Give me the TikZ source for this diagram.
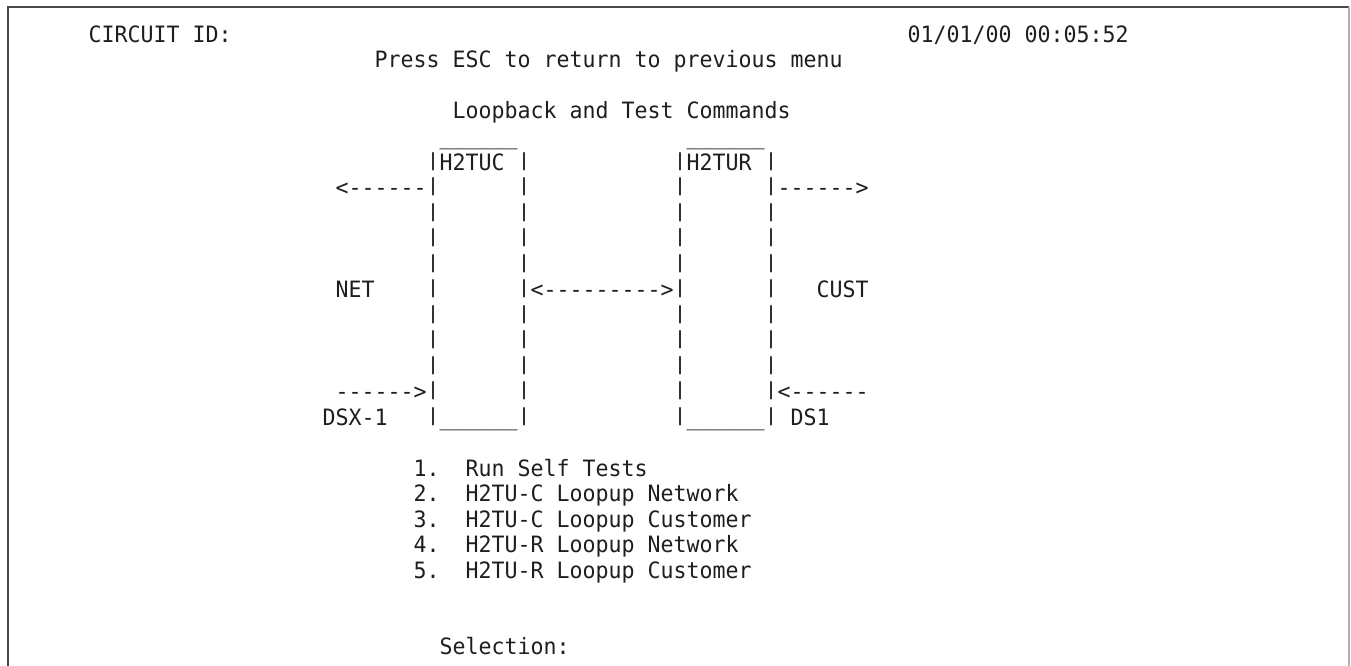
\documentclass[tikz,border=0pt]{standalone}
\usepackage{graphicx}
\usepackage{fontspec}
\setmonofont[FakeStretch=0.96]{DejaVu Sans Mono}
\frenchspacing
\definecolor{ink}{HTML}{1E1E1E}
\definecolor{frameL}{HTML}{4A4A4A}
\definecolor{frameR}{HTML}{B0B0B0}
\tikzset{
  txt/.style={anchor=base west, inner sep=0pt, outer sep=0pt, text=ink,
              font=\ttfamily\fontsize{22.5}{25.5}\selectfont},
}
% shortened vertical bar glyph (leaves a gap between rows)
\newcommand\vb{\raisebox{3.6pt}{\scalebox{1}[0.8]{|}}}
% place text at column #2, row #3
\newcommand\tcell[4]{\node[txt] (#1) at ({88.5+13*#2},{42.5+25.5*#3}) {#4};}
\begin{document}
\begin{tikzpicture}[x=1pt,y=-1pt]
\useasboundingbox (0,0) rectangle (1351,666);
% frame
\draw[frameL, line width=1.5pt] (8,666) -- (8,7) -- (1349,7);
\draw[frameR, line width=1.5pt] (1349,7) -- (1349,666);
% header
\tcell{cid}{0}{0}{CIRCUIT ID:}
\tcell{date}{63}{0}{01/01/00 00:05:52}
\tcell{esc}{22}{1}{Press ESC to return to previous menu}
\tcell{title}{28}{3}{Loopback and Test Commands}
% tops of the boxes
\tcell{topC}{27}{4}{\_\_\_\_\_\_}
\tcell{topR}{46}{4}{\_\_\_\_\_\_}
\tcell{nameC}{26}{5}{\vb H2TUC \vb}
\tcell{nameR}{45}{5}{\vb H2TUR \vb}
% row 6
\tcell{netout}{19}{6}{<------\vb}
\tcell{c6b}{33}{6}{\vb}
\tcell{r6a}{45}{6}{\vb}
\tcell{custout}{52}{6}{\vb------>}
% rows 7-9
\foreach \r in {7,8,9}{
  \tcell{ca\r}{26}{\r}{\vb}
  \tcell{cb\r}{33}{\r}{\vb}
  \tcell{ra\r}{45}{\r}{\vb}
  \tcell{rb\r}{52}{\r}{\vb}
}
% row 10
\tcell{net}{19}{10}{NET}
\tcell{c10a}{26}{10}{\vb}
\tcell{link}{33}{10}{\vb<--------->\vb}
\tcell{r10b}{52}{10}{\vb}
\tcell{cust}{56}{10}{CUST}
% rows 11-13
\foreach \r in {11,12,13}{
  \tcell{ca\r}{26}{\r}{\vb}
  \tcell{cb\r}{33}{\r}{\vb}
  \tcell{ra\r}{45}{\r}{\vb}
  \tcell{rb\r}{52}{\r}{\vb}
}
% row 14
\tcell{netin}{19}{14}{------>\vb}
\tcell{c14b}{33}{14}{\vb}
\tcell{r14a}{45}{14}{\vb}
\tcell{custin}{52}{14}{\vb<------}
% row 15
\tcell{dsx}{18}{15}{DSX-1}
\tcell{botC}{26}{15}{\vb\_\_\_\_\_\_\vb}
\tcell{botR}{45}{15}{\vb\_\_\_\_\_\_\vb}
\tcell{ds}{54}{15}{DS1}
% menu
\tcell{n1}{25}{17}{1.}
\tcell{m1}{29}{17}{Run Self Tests}
\tcell{n2}{25}{18}{2.}
\tcell{m2}{29}{18}{H2TU-C Loopup Network}
\tcell{n3}{25}{19}{3.}
\tcell{m3}{29}{19}{H2TU-C Loopup Customer}
\tcell{n4}{25}{20}{4.}
\tcell{m4}{29}{20}{H2TU-R Loopup Network}
\tcell{n5}{25}{21}{5.}
\tcell{m5}{29}{21}{H2TU-R Loopup Customer}
\tcell{sel}{27}{24}{Selection:}
\end{tikzpicture}
\end{document}
